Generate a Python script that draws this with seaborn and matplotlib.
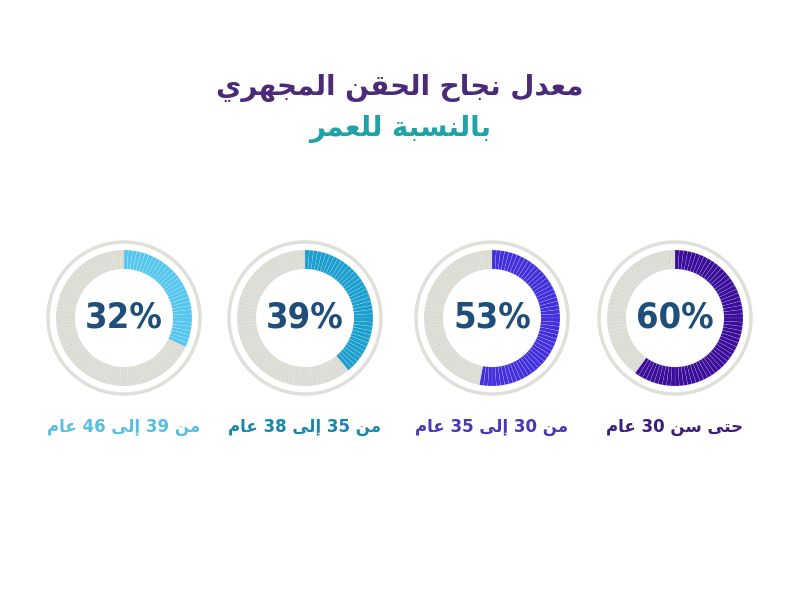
import matplotlib
matplotlib.use("Agg")
import matplotlib.pyplot as plt
import seaborn as sns

# chart data, left to right as in the picture
percents = [32, 39, 53, 60]
age_labels = ["من 39 إلى 46 عام", "من 35 إلى 38 عام", "من 30 إلى 35 عام", "حتى سن 30 عام"]
ring_colors = ["#55c6ee", "#1b9fcf", "#4230dc", "#3a0e9a"]
label_colors = ["#58bfe2", "#1a86ad", "#4a38b4", "#3a1f7c"]
title_line1 = "معدل نجاح الحقن المجهري"
title_line2 = "بالنسبة للعمر"

# Arabic presentation forms: (isolated, final, initial, medial)
FORMS = {
    'ا': (0xFE8D, 0xFE8E, None, None), 'إ': (0xFE87, 0xFE88, None, None),
    'ب': (0xFE8F, 0xFE90, 0xFE91, 0xFE92), 'ة': (0xFE93, 0xFE94, None, None),
    'ت': (0xFE95, 0xFE96, 0xFE97, 0xFE98), 'ج': (0xFE9D, 0xFE9E, 0xFE9F, 0xFEA0),
    'ح': (0xFEA1, 0xFEA2, 0xFEA3, 0xFEA4), 'د': (0xFEA9, 0xFEAA, None, None),
    'ر': (0xFEAD, 0xFEAE, None, None), 'س': (0xFEB1, 0xFEB2, 0xFEB3, 0xFEB4),
    'ع': (0xFEC9, 0xFECA, 0xFECB, 0xFECC), 'ق': (0xFED5, 0xFED6, 0xFED7, 0xFED8),
    'ل': (0xFEDD, 0xFEDE, 0xFEDF, 0xFEE0), 'م': (0xFEE1, 0xFEE2, 0xFEE3, 0xFEE4),
    'ن': (0xFEE5, 0xFEE6, 0xFEE7, 0xFEE8), 'ه': (0xFEE9, 0xFEEA, 0xFEEB, 0xFEEC),
    'ى': (0xFEEF, 0xFEF0, None, None), 'ي': (0xFEF1, 0xFEF2, 0xFEF3, 0xFEF4),
}


# join the letters of one word and put them in visual (left to right) order
def shape_word(word):
    out = []
    for i, ch in enumerate(word):
        f = FORMS.get(ch)
        if f is None:
            out.append(ch)
            continue
        prev = FORMS.get(word[i - 1]) if i > 0 else None
        nxt = FORMS.get(word[i + 1]) if i < len(word) - 1 else None
        join_prev = prev is not None and prev[2] is not None
        join_next = f[2] is not None and nxt is not None
        if join_prev and join_next:
            code = f[3]
        elif join_prev:
            code = f[1]
        elif join_next:
            code = f[2]
        else:
            code = f[0]
        out.append(chr(code))
    return "".join(reversed(out))


def rtl(text):
    words = text.split(" ")
    return " ".join(shape_word(w) if any(c in FORMS for c in w) else w for w in reversed(words))


sns.set_theme(style="white")
plt.rcParams["font.family"] = ["DejaVu Sans"]

fig = plt.figure(figsize=(8, 6), dpi=100)
ax = fig.add_axes([0, 0, 1, 1])

centers_x = [124, 305, 492, 675]
center_y = 600 - 318
radius = 68
gray = "#dcdcd5"

for cx, pct, col, lab, lcol in zip(centers_x, percents, ring_colors, age_labels, label_colors):
    colors = [col] * pct + [gray] * (100 - pct)
    wedges, _ = ax.pie([1] * 100, colors=colors, startangle=90, counterclock=False,
                       center=(cx, center_y), radius=radius,
                       wedgeprops=dict(width=19, edgecolor=(1, 1, 1, 0.35), linewidth=0.25))
    for w in wedges[pct:]:
        w.set_edgecolor((1, 1, 1, 0.15))
    ax.add_patch(plt.Circle((cx, center_y), 76, fill=False, ec="#e0e0da", lw=2.5))
    ax.text(cx, center_y, f"{pct}%", ha="center", va="center", fontsize=26,
            fontweight="bold", fontstretch="condensed", color="#1f4e7a",
            family=["DejaVu Sans"])
    ax.text(cx, 600 - 427, rtl(lab), ha="center", va="center", fontsize=12,
            fontweight="bold", color=lcol)

ax.text(400, 600 - 88, rtl(title_line1), ha="center", va="center", fontsize=20,
        fontweight="bold", color="#4b2a78")
ax.text(400, 600 - 129, rtl(title_line2), ha="center", va="center", fontsize=20,
        fontweight="bold", color="#1fa3a6")

ax.set_xlim(0, 800)
ax.set_ylim(0, 600)
ax.set_aspect("equal")
ax.axis("off")

fig.savefig("out.png", dpi=100, facecolor="white")
